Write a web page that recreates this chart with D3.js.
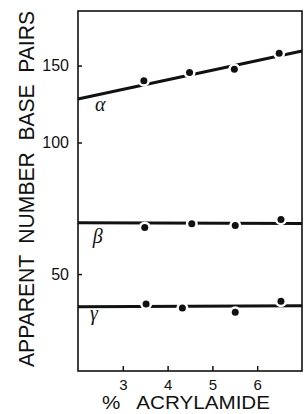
<!DOCTYPE html>
<html>
<head>
<meta charset="utf-8">
<script src="https://cdn.jsdelivr.net/npm/d3@7"></script>
<style>
  body { margin: 0; background: #fff; }
  text { font-family: "Liberation Sans", Arial, sans-serif; fill: #111; }
  .greek { font-family: "Liberation Serif", "DejaVu Serif", serif; font-style: italic; }
</style>
</head>
<body>
<div id="chart"></div>
<script>
// values (x = % acrylamide, y = apparent base pairs)
var alphaX = [3.47, 4.49, 5.49, 6.49],
    alphaBp = [138.5, 144.7, 147.1, 160.0];
var betaX = [3.49, 4.54, 5.51, 6.53],
    betaBp = [63.9, 65.2, 64.6, 66.7];
var gammaX = [3.52, 4.33, 5.51, 6.53],
    gammaBp = [42.7, 41.8, 40.9, 43.3];

// fitted lines, from the left edge to the right edge of the frame
var fitX = [2, 7],
    alphaFit = [125.8, 162.0],
    betaFit = [65.5, 65.3],
    gammaFit = [42.1, 42.3];

var xTicks = [3, 4, 5, 6],
    yTicks = [50, 100, 150];

var series = [
  { name: 'α', x: alphaX, y: alphaBp, fit: alphaFit, lx: 2.38, ly: 118 },
  { name: 'β', x: betaX, y: betaBp, fit: betaFit, lx: 2.33, ly: 58.9 },
  { name: 'γ', x: gammaX, y: gammaBp, fit: gammaFit, lx: 2.27, ly: 39.3 }
];

var pic_width = 308, pic_height = 414;
var margin = { top: 11, right: 6, bottom: 43, left: 78 };
var width = pic_width - margin.left - margin.right,
    height = pic_height - margin.top - margin.bottom;

var svg = d3.select('#chart').append('svg')
    .attr('width', pic_width)
    .attr('height', pic_height)
    .style('background', '#fff');

var g = svg.append('g')
    .attr('transform', 'translate(' + margin.left + ',' + margin.top + ')');

var xScale = d3.scaleLinear().domain([2, 7]).range([0, width]);
// log axis: 150/100/50 are not evenly spaced in the original
var yScale = d3.scaleLog().domain([30, 200]).range([height, 0]);

// axes with inward ticks
var yAxis = d3.axisLeft(yScale).tickValues(yTicks).tickFormat(d3.format('d'))
    .tickSizeInner(-4).tickSizeOuter(0).tickPadding(9);
var xAxis = d3.axisBottom(xScale).tickValues(xTicks).tickFormat(d3.format('d'))
    .tickSizeInner(-5).tickSizeOuter(0).tickPadding(8);

var ya = g.append('g').call(yAxis);
ya.selectAll('text').style('font-size', '16px').attr('fill', '#111');
var xa = g.append('g').attr('transform', 'translate(0,' + height + ')').call(xAxis);
xa.selectAll('text').style('font-size', '15px').attr('fill', '#111');
g.selectAll('.domain').remove();
g.selectAll('.tick line').attr('stroke', '#111').attr('stroke-width', 1.5);

// frame
g.append('rect')
    .attr('width', width).attr('height', height)
    .attr('fill', 'none').attr('stroke', '#111').attr('stroke-width', 1.6);

var line = d3.line()
    .x(function(d) { return xScale(d[0]); })
    .y(function(d) { return yScale(d[1]); });

series.forEach(function(s) {
  g.append('path')
      .datum(d3.zip(fitX, s.fit))
      .attr('d', line)
      .attr('fill', 'none').attr('stroke', '#111').attr('stroke-width', 3);

  var pts = d3.zip(s.x, s.y);
  // white halo breaks the line around every point
  g.selectAll(null).data(pts).enter().append('circle')
      .attr('cx', function(d) { return xScale(d[0]); })
      .attr('cy', function(d) { return yScale(d[1]); })
      .attr('r', 6).attr('fill', '#fff');
  g.selectAll(null).data(pts).enter().append('circle')
      .attr('cx', function(d) { return xScale(d[0]); })
      .attr('cy', function(d) { return yScale(d[1]); })
      .attr('r', 3.5).attr('fill', '#111');

  g.append('text').attr('class', 'greek')
      .attr('x', xScale(s.lx)).attr('y', yScale(s.ly))
      .style('font-size', '20px')
      .text(s.name);
});

// axis titles
svg.append('text')
    .attr('transform', 'translate(34,189) rotate(-90)')
    .attr('text-anchor', 'middle')
    .attr('textLength', 356).attr('lengthAdjust', 'spacingAndGlyphs')
    .style('font-size', '22px').style('word-spacing', '6px')
    .text('APPARENT NUMBER BASE PAIRS');

svg.append('text')
    .attr('x', 186).attr('y', 409)
    .attr('text-anchor', 'middle')
    .attr('textLength', 168).attr('lengthAdjust', 'spacingAndGlyphs')
    .style('font-size', '18px').style('word-spacing', '10px')
    .text('% ACRYLAMIDE');
</script>
</body>
</html>
